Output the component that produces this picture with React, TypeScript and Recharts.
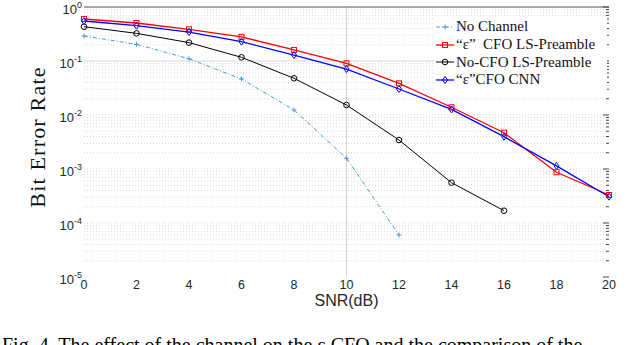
import React from "react";
import {
  LineChart,
  Line,
  XAxis,
  YAxis,
  ReferenceLine,
  Legend,
} from "recharts";

// SNR points (dB)
const snr = [0, 2, 4, 6, 8, 10, 12, 14, 16, 18, 20];

// BER values
const noChannel = [0.29, 0.204, 0.11, 0.0464, 0.0124, 0.00158, 0.00006];
const lsCfo = [0.6, 0.505, 0.386, 0.28, 0.16, 0.0906, 0.0386, 0.0139, 0.0047, 0.00087, 0.00033];
const lsNoCfo = [0.432, 0.325, 0.219, 0.117, 0.0478, 0.0153, 0.00344, 0.000558, 0.000169];
const cnnCfo = [0.55, 0.45, 0.344, 0.228, 0.129, 0.071, 0.0303, 0.0127, 0.00397, 0.00114, 0.000307];

const xTicks = [0, 2, 4, 6, 8, 10, 12, 14, 16, 18, 20];
const yTicks = [1, 1e-1, 1e-2, 1e-3, 1e-4, 1e-5];
const yTickExps = ["0", "-1", "-2", "-3", "-4", "-5"];

const data = snr.map((s, i) => ({
  snr: s,
  noChannel: noChannel[i] ?? null,
  lsCfo: lsCfo[i] ?? null,
  lsNoCfo: lsNoCfo[i] ?? null,
  cnnCfo: cnnCfo[i] ?? null,
}));

// minor log grid (2..9 per decade)
const minorGrid: number[] = [];
for (let d = -5; d < 0; d++) {
  for (let k = 2; k <= 9; k++) minorGrid.push(k * Math.pow(10, d));
}
const rightTicks = [...yTicks, ...minorGrid];

const COLORS = {
  noChannel: "#4a9ad8",
  lsCfo: "#ff0000",
  lsNoCfo: "#000000",
  cnnCfo: "#0000ff",
};

type MarkerKind = "plus" | "square" | "circle" | "diamond";

function marker(kind: MarkerKind, cx: number, cy: number, color: string, key?: string | number) {
  switch (kind) {
    case "plus":
      return (
        <g key={key} stroke={color} strokeWidth={1}>
          <line x1={cx - 2.5} y1={cy} x2={cx + 2.5} y2={cy} />
          <line x1={cx} y1={cy - 2.5} x2={cx} y2={cy + 2.5} />
        </g>
      );
    case "square":
      return <rect key={key} x={cx - 2.5} y={cy - 2.5} width={5} height={5} fill="none" stroke={color} strokeWidth={1} />;
    case "circle":
      return <circle key={key} cx={cx} cy={cy} r={2.8} fill="none" stroke={color} strokeWidth={1} />;
    default:
      return (
        <polygon
          key={key}
          points={`${cx},${cy - 3.5} ${cx + 2.5},${cy} ${cx},${cy + 3.5} ${cx - 2.5},${cy}`}
          fill="none"
          stroke={color}
          strokeWidth={1}
        />
      );
  }
}

const dotFor = (kind: MarkerKind, color: string) => (props: any) => {
  const { cx, cy, index, value } = props;
  if (cx == null || cy == null || value == null) return <g key={`e${index}`} />;
  return marker(kind, cx, cy, color, `d${index}`);
};

const series = [
  { key: "noChannel", label: "No Channel", kind: "plus" as MarkerKind, dash: "4 2 1 2", width: 1 },
  { key: "lsCfo", label: "\u201c\u03b5\u201d  CFO LS-Preamble", kind: "square" as MarkerKind, dash: undefined, width: 1.3 },
  { key: "lsNoCfo", label: "No-CFO LS-Preamble", kind: "circle" as MarkerKind, dash: undefined, width: 1 },
  { key: "cnnCfo", label: "\u201c\u03b5\u201dCFO CNN", kind: "diamond" as MarkerKind, dash: undefined, width: 1.3 },
];

const YTick = (props: any) => {
  const { x, y, payload } = props;
  const idx = yTicks.findIndex((t) => Math.abs(t - payload.value) < payload.value * 1e-6);
  return (
    <text x={x} y={y + 7} textAnchor="end" fontFamily="Liberation Sans, Arial" fontSize={13} fill="#262626">
      <tspan>10</tspan>
      <tspan dy={-6} fontSize={9}>
        {yTickExps[idx]}
      </tspan>
    </text>
  );
};

const RightTick = (props: any) => {
  const { x, y, payload } = props;
  const major = yTicks.some((t) => Math.abs(t - payload.value) < payload.value * 1e-6);
  const len = major ? 6 : 3;
  return <line x1={x - len} y1={y} x2={x} y2={y} stroke="#444" strokeWidth={1} />;
};

const LegendBox = () => (
  <div style={{ background: "#fff", padding: "2px 0" }}>
    {series.map((s) => {
      const color = (COLORS as any)[s.key];
      return (
        <div key={s.key} style={{ display: "flex", alignItems: "center", height: 17.7 }}>
          <svg width={20} height={12} style={{ flex: "none" }}>
            <line x1={1} y1={6} x2={19} y2={6} stroke={color} strokeWidth={s.width} strokeDasharray={s.dash} />
            {marker(s.kind, 10, 6, color)}
          </svg>
          <span
            style={{
              fontFamily: "Liberation Serif, Times New Roman, serif",
              fontSize: 15,
              color: "#111",
              marginLeft: 1,
              whiteSpace: "pre",
            }}
          >
            {s.label}
          </span>
        </div>
      );
    })}
  </div>
);

export default function App() {
  return (
    <div
      style={{
        position: "fixed",
        top: 0,
        left: 0,
        width: 640,
        height: 345,
        overflow: "hidden",
        background: "#fff",
      }}
    >
      <LineChart width={640} height={345} data={data} margin={{ top: 7, right: 0, bottom: 0, left: 0 }}>
        <XAxis
          dataKey="snr"
          type="number"
          domain={[0, 20]}
          ticks={xTicks}
          interval={0}
          axisLine={false}
          tickLine={false}
          tickSize={0}
          tickMargin={3}
          height={68}
          tick={{ fontFamily: "Liberation Sans, Arial", fontSize: 12.5, fill: "#262626" }}
        />
        <YAxis
          type="number"
          scale="log"
          domain={[1e-5, 1]}
          allowDataOverflow
          ticks={yTicks}
          interval={0}
          axisLine={false}
          tickLine={false}
          tickSize={0}
          tickMargin={2}
          width={84}
          tick={<YTick />}
        />
        <YAxis
          yAxisId="right"
          orientation="right"
          type="number"
          scale="log"
          domain={[1e-5, 1]}
          allowDataOverflow
          ticks={rightTicks}
          interval={0}
          axisLine={false}
          tickLine={false}
          tickSize={0}
          tickMargin={0}
          width={31}
          tick={<RightTick />}
        />
        {minorGrid.map((v) => (
          <ReferenceLine key={`m${v}`} y={v} stroke="#cfcfcf" strokeDasharray="1 2" strokeWidth={0.8} />
        ))}
        {[1e-2, 1e-3, 1e-4].map((v) => (
          <ReferenceLine key={`M${v}`} y={v} stroke="#cfcfcf" strokeDasharray="1 2" strokeWidth={0.8} />
        ))}
        <ReferenceLine y={1e-1} stroke="#d6d6d6" strokeWidth={1} />
        <ReferenceLine x={10} stroke="#d6d6d6" strokeWidth={1} />
        <ReferenceLine y={1} stroke="#555" strokeWidth={1.2} />
        <Legend
          layout="horizontal"
          verticalAlign="middle"
          align="center"
          wrapperStyle={{ top: 16, left: 435, width: 172 }}
          content={() => <LegendBox />}
        />
        {series.map((s) => (
          <Line
            key={s.key}
            dataKey={s.key}
            name={s.label}
            type="linear"
            stroke={(COLORS as any)[s.key]}
            strokeWidth={s.width}
            strokeDasharray={s.dash}
            dot={dotFor(s.kind, (COLORS as any)[s.key])}
            activeDot={false}
            isAnimationActive={false}
            connectNulls={false}
          />
        ))}
      </LineChart>
      <div
        style={{
          position: "absolute",
          left: 28,
          top: 137,
          transform: "translate(-50%, -50%) rotate(-90deg)",
          transformOrigin: "center",
          fontFamily: "Liberation Serif, Times New Roman, serif",
          fontSize: 22,
          letterSpacing: 1.2,
          whiteSpace: "nowrap",
          color: "#111",
          marginLeft: 10,
        }}
      >
        Bit Error Rate
      </div>
      <div
        style={{
          position: "absolute",
          left: 0,
          width: 693,
          top: 292,
          textAlign: "center",
          fontFamily: "Liberation Sans, Arial",
          fontSize: 16,
          color: "#262626",
        }}
      >
        SNR(dB)
      </div>
      <div
        style={{
          position: "absolute",
          left: 2,
          top: 334,
          fontFamily: "Liberation Serif, Times New Roman, serif",
          fontSize: 20,
          whiteSpace: "nowrap",
          color: "#000",
        }}
      >
        Fig. 4. The effect of the channel on the &#949; CFO and the comparison of the
      </div>
    </div>
  );
}
